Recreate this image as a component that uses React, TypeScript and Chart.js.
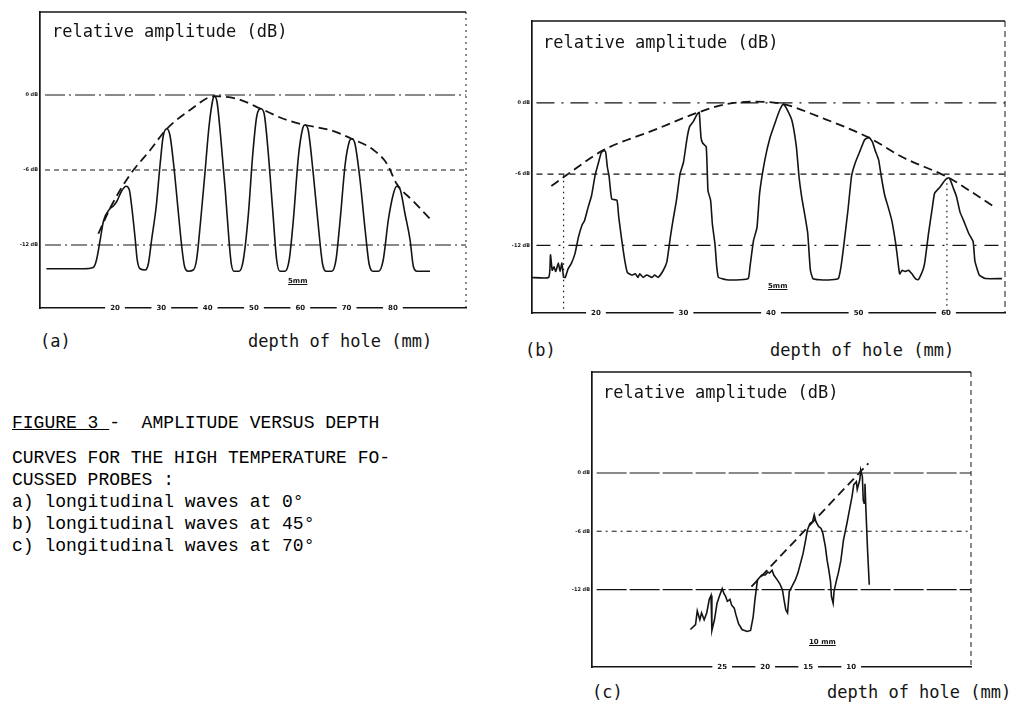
import React, { useEffect, useRef } from "react";
import { Chart, registerables } from "chart.js";
Chart.register(...registerables);

const INK = "#141414";
const MONO = '"DejaVu Sans Mono", monospace';
const CAP = '"Liberation Mono", monospace';

// ---------- shared ----------
const refLevels = [0, -6, -12];
const refLabels = ["0 dB", "-6 dB", "-12 dB"];

// ---------- panel (a) : longitudinal waves at 0° ----------
const xTicksA = [20, 30, 40, 50, 60, 70, 80];
const depthA = [5.2, 13.2, 15.3, 16.0, 16.8, 17.5, 18.9, 19.6, 20.4, 21.4, 22.4, 23.1, 23.6, 24.3, 24.8, 25.4, 26.5, 27.2, 27.9, 28.9, 29.7, 30.4, 31.2, 31.9, 32.7, 33.7, 34.4, 35.0, 35.8, 36.9, 37.6, 38.5, 39.4, 40.3, 41.1, 41.4, 42.0, 42.8, 43.8, 44.6, 45.1, 45.7, 46.8, 47.7, 48.8, 49.7, 50.6, 51.5, 52.2, 53.1, 54.1, 54.9, 55.6, 56.7, 57.6, 58.5, 59.6, 60.5, 61.0, 61.7, 62.8, 63.9, 64.8, 65.6, 66.8, 67.7, 68.6, 69.7, 70.6, 71.1, 71.8, 72.9, 74.0, 74.9, 75.8, 76.9, 77.9, 79.0, 80.1, 80.8, 81.6, 82.6, 83.7, 84.4, 85.2, 88.0];
const ampA = [-13.9, -13.9, -13.8, -13.2, -11.6, -10.1, -9.1, -8.9, -8.5, -7.7, -7.3, -7.6, -8.9, -11.3, -13.2, -13.9, -14.0, -13.5, -11.6, -8.9, -5.7, -3.3, -2.7, -3.3, -5.7, -9.5, -12.1, -13.7, -14.1, -14.0, -13.2, -10.0, -6.3, -2.5, -0.4, -0.1, -0.5, -3.3, -7.6, -11.6, -13.5, -14.1, -14.1, -13.2, -9.5, -4.9, -1.7, -1.1, -1.5, -4.7, -9.5, -13.2, -14.1, -14.1, -13.2, -10.0, -4.9, -2.7, -2.4, -2.8, -6.3, -10.5, -13.5, -14.1, -14.1, -13.2, -10.0, -5.5, -3.7, -3.5, -3.9, -6.8, -10.8, -13.6, -14.1, -14.1, -13.2, -10.0, -7.9, -7.3, -7.6, -9.5, -11.6, -13.7, -14.1, -14.1];
const envDepthA = [16.4, 19.3, 23.2, 27.6, 31.2, 36.2, 41.4, 46.3, 51.5, 56.3, 61.0, 66.4, 71.1, 75.8, 78.7, 80.8, 84.4, 88.0];
const envAmpA = [-11.1, -8.8, -6.4, -4.4, -2.7, -1.2, -0.1, -0.3, -1.1, -1.9, -2.4, -2.8, -3.5, -4.4, -5.5, -7.1, -8.5, -9.9];

// ---------- panel (b) : longitudinal waves at 45° ----------
const xTicksB = [20, 30, 40, 50, 60];
const depthB = [12.5, 14.6, 14.8, 15.0, 15.2, 15.4, 15.7, 15.9, 16.1, 16.3, 16.5, 16.8, 17.2, 17.6, 18.0, 18.4, 18.7, 19.1, 19.5, 19.9, 20.3, 20.6, 20.9, 21.1, 21.3, 21.5, 21.8, 22.4, 22.6, 22.9, 23.3, 23.6, 24.1, 24.5, 24.8, 25.0, 25.4, 25.8, 26.4, 26.7, 27.1, 27.7, 28.1, 28.5, 28.8, 29.2, 29.6, 30.0, 30.4, 30.7, 31.1, 31.6, 31.8, 32.0, 32.2, 32.6, 32.8, 33.1, 33.3, 33.6, 33.8, 34.0, 34.9, 36.5, 37.4, 37.6, 38.0, 38.4, 38.7, 39.3, 39.9, 40.5, 41.0, 41.4, 41.8, 42.4, 42.9, 43.2, 43.5, 43.9, 44.2, 44.5, 44.8, 45.6, 46.9, 47.7, 48.0, 48.3, 48.8, 49.2, 49.6, 50.2, 50.7, 51.2, 51.6, 51.9, 52.3, 52.6, 53.0, 53.4, 53.8, 54.2, 54.4, 54.7, 55.0, 55.3, 55.7, 56.1, 56.5, 56.8, 57.0, 57.4, 57.6, 58.0, 58.4, 58.7, 59.3, 59.9, 60.3, 60.5, 60.8, 61.2, 61.6, 62.0, 62.6, 63.1, 63.3, 63.8, 64.5, 66.4];
const ampB = [-14.7, -14.7, -12.8, -14.1, -13.8, -14.2, -13.5, -14.2, -13.5, -14.7, -14.7, -14.0, -13.5, -12.7, -11.3, -10.3, -9.9, -8.8, -7.8, -6.1, -5.0, -4.2, -4.0, -4.1, -5.4, -6.2, -8.1, -8.2, -9.6, -11.3, -13.3, -14.3, -14.5, -14.4, -14.7, -14.4, -14.7, -14.5, -14.7, -14.5, -14.7, -14.1, -13.4, -11.3, -9.9, -8.2, -6.0, -5.0, -3.0, -2.0, -1.6, -0.9, -0.8, -2.9, -3.4, -3.7, -7.4, -8.2, -10.2, -11.9, -13.8, -14.7, -14.9, -14.9, -14.8, -13.8, -11.6, -10.5, -7.6, -4.8, -2.9, -1.6, -0.6, -0.1, -0.5, -1.5, -3.7, -6.2, -7.9, -9.6, -11.0, -14.1, -14.8, -14.9, -14.9, -14.8, -13.8, -12.1, -9.0, -6.2, -5.1, -4.0, -3.1, -2.9, -3.3, -4.0, -4.8, -6.2, -7.8, -8.8, -9.9, -11.6, -12.7, -14.4, -14.1, -14.2, -14.1, -14.4, -14.8, -14.9, -14.7, -14.0, -13.3, -11.0, -9.0, -7.6, -7.1, -6.5, -6.3, -6.5, -7.1, -7.9, -9.2, -9.9, -11.0, -11.7, -13.3, -14.5, -14.8, -14.8];
const envDepthB = [14.9, 16.6, 20.8, 26.6, 31.7, 34.9, 38.0, 41.4, 45.6, 51.1, 55.1, 60.3, 62.7, 65.6];
const envAmpB = [-7.0, -6.1, -4.0, -2.3, -0.8, -0.1, 0.1, -0.1, -1.2, -2.9, -4.6, -6.3, -7.4, -8.8];
const markerDepthB = [16.3, 60.1];
const markerAmpB = [-6.1, -6.3];

// ---------- panel (c) : longitudinal waves at 70° ----------
const xTicksC = [25, 20, 15, 10];
const depthC = [28.7, 28.1, 27.9, 27.6, 27.4, 27.1, 26.8, 26.5, 26.3, 26.2, 25.9, 25.6, 25.3, 25.0, 24.8, 24.6, 24.4, 24.1, 23.9, 23.6, 23.4, 23.1, 22.7, 22.1, 21.7, 21.4, 21.2, 20.9, 20.4, 20.0, 19.7, 19.5, 19.2, 19.0, 18.6, 18.3, 18.0, 17.8, 17.6, 17.4, 17.2, 16.9, 16.5, 16.2, 15.9, 15.6, 15.3, 15.1, 14.8, 14.5, 14.3, 14.1, 13.8, 13.5, 13.3, 13.0, 12.8, 12.6, 12.4, 12.3, 12.1, 12.0, 11.7, 11.5, 11.2, 10.9, 10.5, 10.2, 9.9, 9.7, 9.4, 9.3, 9.0, 8.9, 8.7, 8.6, 8.5, 8.4, 8.3, 8.1, 7.9];
const ampC = [-16.1, -15.6, -14.2, -15.1, -14.4, -15.1, -14.4, -13.0, -12.6, -16.2, -15.1, -13.4, -12.6, -11.9, -12.4, -12.7, -13.2, -13.0, -13.6, -13.9, -14.6, -15.5, -16.1, -16.3, -16.2, -14.8, -13.1, -11.0, -10.5, -10.5, -10.2, -10.3, -10.0, -10.5, -11.0, -11.4, -12.0, -13.1, -14.1, -14.4, -12.2, -11.7, -11.0, -10.3, -9.3, -8.3, -6.9, -5.9, -5.2, -5.0, -4.3, -5.0, -5.5, -5.7, -6.2, -7.6, -9.0, -10.0, -11.2, -12.7, -13.4, -12.2, -11.0, -10.3, -9.0, -6.9, -5.2, -3.8, -2.4, -1.2, -0.9, -1.7, -0.7, 0.3, -0.4, -2.8, -3.1, -1.1, -3.5, -7.9, -11.5];
const envDepthC = [21.6, 8.0];
const envAmpC = [-11.7, 1.0];

// ---------- layout / style config ----------
const PAD = { left: 30, top: 10, right: 8, bottom: 14 };
const Y_AXIS_W = 26;
const X_TICK_SIZE = 7;

type PanelCfg = {
  frame: { L: number; T: number; R: number; B: number };
  xMin: number; xMax: number; reverse: boolean;
  yMin: number; yMax: number;
  xTicks: number[];
  refStart: number; refEnd: number;
  refDash: number[][];
  depth: number[]; amp: number[]; tension: number; monotone: boolean;
  envDepth: number[]; envAmp: number[];
  markers?: { depth: number[]; amp: number[] };
  rightDash: number[];
};

const panelA: PanelCfg = {
  frame: { L: 40, T: 12, R: 466, B: 308 },
  xMin: 3.81, xMax: 95.77, reverse: false,
  yMin: -17.04, yMax: 6.64,
  xTicks: xTicksA, refStart: 4.9, refEnd: 95.77,
  refDash: [[20, 4, 2, 4], [5, 4], [16, 4, 2, 4]],
  depth: depthA, amp: ampA, tension: 0, monotone: true,
  envDepth: envDepthA, envAmp: envAmpA,
  rightDash: [2, 4],
};
const panelB: PanelCfg = {
  frame: { L: 532, T: 21, R: 1005, B: 313 },
  xMin: 12.69, xMax: 66.74, reverse: false,
  yMin: -17.7, yMax: 6.9,
  xTicks: xTicksB, refStart: 13.2, refEnd: 66.74,
  refDash: [[18, 7, 2, 7], [6, 5], [14, 8, 2, 8]],
  depth: depthB, amp: ampB, tension: 0.15, monotone: false,
  envDepth: envDepthB, envAmp: envAmpB,
  markers: { depth: markerDepthB, amp: markerAmpB },
  rightDash: [6, 4],
};
const panelC: PanelCfg = {
  frame: { L: 592, T: 372, R: 971, B: 667 },
  xMin: -3.93, xMax: 40.14, reverse: true,
  yMin: -19.96, yMax: 10.39,
  xTicks: xTicksC, refStart: 39.6, refEnd: -3.93,
  refDash: [[30, 3], [5, 4, 2, 4], [30, 3]],
  depth: depthC, amp: ampC, tension: 0, monotone: false,
  envDepth: envDepthC, envAmp: envAmpC,
  rightDash: [5, 4],
};

const pts = (xs: number[], ys: number[]) => xs.map((x, i) => ({ x, y: ys[i] }));

const framePlugin = {
  id: "frame",
  afterDatasetsDraw(chart: any, _args: any, opts: any) {
    const { ctx, chartArea } = chart;
    const { left, right, top, bottom } = chartArea;
    ctx.save();
    ctx.strokeStyle = INK;
    ctx.lineWidth = 1.3;
    ctx.beginPath();
    ctx.moveTo(left, top);
    ctx.lineTo(right, top);
    ctx.stroke();
    ctx.lineWidth = 1;
    ctx.setLineDash(opts.rightDash || [3, 3]);
    ctx.beginPath();
    ctx.moveTo(right, top);
    ctx.lineTo(right, bottom);
    ctx.stroke();
    ctx.restore();
  },
};

function Panel({ cfg }: { cfg: PanelCfg }) {
  const ref = useRef<HTMLCanvasElement>(null);
  const { L, T, R, B } = cfg.frame;
  const w = R - L + PAD.left + PAD.right;
  const h = B - T + PAD.top + PAD.bottom;

  useEffect(() => {
    const canvas = ref.current!;
    const datasets: any[] = [];
    refLevels.forEach((lv, i) => {
      datasets.push({
        data: [{ x: cfg.refStart, y: lv }, { x: cfg.refEnd, y: lv }],
        borderColor: INK, borderWidth: 1.1, borderDash: cfg.refDash[i],
        pointRadius: 0, tension: 0,
      });
    });
    if (cfg.markers) {
      cfg.markers.depth.forEach((d, i) => {
        datasets.push({
          data: [{ x: d, y: cfg.markers!.amp[i] }, { x: d, y: cfg.yMin }],
          borderColor: INK, borderWidth: 1.2, borderDash: [1.5, 4],
          pointRadius: 0, tension: 0,
        });
      });
    }
    datasets.push({
      data: pts(cfg.envDepth, cfg.envAmp),
      borderColor: INK, borderWidth: 1.8, borderDash: [9, 5],
      pointRadius: 0, cubicInterpolationMode: "monotone",
    });
    datasets.push({
      data: pts(cfg.depth, cfg.amp),
      borderColor: INK, borderWidth: 1.6,
      pointRadius: 0,
      tension: cfg.tension,
      cubicInterpolationMode: cfg.monotone ? "monotone" : "default",
    });

    const chart = new Chart(canvas, {
      type: "line",
      data: { datasets },
      options: {
        responsive: false,
        animation: false,
        devicePixelRatio: 1,
        layout: { padding: { ...PAD, left: PAD.left - Y_AXIS_W } },
        plugins: {
          legend: { display: false },
          tooltip: { enabled: false },
          frame: { rightDash: cfg.rightDash },
        } as any,
        scales: {
          x: {
            type: "linear",
            min: cfg.xMin,
            max: cfg.xMax,
            reverse: cfg.reverse,
            afterBuildTicks: (s: any) => {
              s.ticks = cfg.xTicks.map((v) => ({ value: v }));
            },
            afterFit: (s: any) => {
              s.height = 0;
            },
            grid: { display: false, drawTicks: false },
            border: { display: true, color: INK, width: 1.4 },
            ticks: {
              autoSkip: false,
              maxRotation: 0,
              mirror: true,
              padding: -X_TICK_SIZE * 0.6,
              color: INK,
              font: { size: X_TICK_SIZE, family: "DejaVu Sans", weight: "bold" },
              showLabelBackdrop: true,
              backdropColor: "#ffffff",
              backdropPadding: { left: 5, right: 5, top: 1, bottom: 1 },
              callback: (v: any) => String(v),
            } as any,
          },
          y: {
            type: "linear",
            min: cfg.yMin,
            max: cfg.yMax,
            afterBuildTicks: (s: any) => {
              s.ticks = refLevels.map((v) => ({ value: v }));
            },
            afterFit: (s: any) => {
              s.width = Y_AXIS_W;
            },
            grid: { display: false, drawTicks: false },
            border: { display: true, color: INK, width: 1.7 },
            ticks: {
              padding: 2,
              color: INK,
              font: { size: 5, family: "DejaVu Sans", weight: "bold" },
              callback: (v: any) => refLabels[refLevels.indexOf(Number(v))] ?? "",
            },
          },
        },
      },
      plugins: [framePlugin as any],
    });
    return () => chart.destroy();
  }, []);

  return (
    <canvas
      ref={ref}
      width={w}
      height={h}
      style={{ position: "absolute", left: L - PAD.left, top: T - PAD.top, width: w, height: h }}
    />
  );
}

const Txt = ({ x, y, size = 17, font = MONO, children, style = {} }: any) => (
  <div
    style={{
      position: "absolute", left: x, top: y, fontFamily: font, fontSize: size,
      lineHeight: "20px", whiteSpace: "pre", color: INK, ...style,
    }}
  >
    {children}
  </div>
);

const small = { fontWeight: "bold", textDecoration: "underline", lineHeight: "10px" };

export default function App() {
  return (
    <div style={{ position: "fixed", left: 0, top: 0, width: 1024, height: 709, background: "#fff", overflow: "hidden" }}>
      <Panel cfg={panelA} />
      <Panel cfg={panelB} />
      <Panel cfg={panelC} />

      <Txt x={52} y={21}>relative amplitude (dB)</Txt>
      <Txt x={543} y={32}>relative amplitude (dB)</Txt>
      <Txt x={603} y={382}>relative amplitude (dB)</Txt>

      <Txt x={40} y={331}>(a)</Txt>
      <Txt x={248} y={331}>depth of hole (mm)</Txt>
      <Txt x={525} y={340}>(b)</Txt>
      <Txt x={770} y={340}>depth of hole (mm)</Txt>
      <Txt x={592} y={682}>(c)</Txt>
      <Txt x={827} y={682}>depth of hole (mm)</Txt>

      <Txt x={288} y={276} size={7} font="DejaVu Sans" style={small}>5mm</Txt>
      <Txt x={768} y={281} size={7} font="DejaVu Sans" style={small}>5mm</Txt>
      <Txt x={809} y={637} size={7} font="DejaVu Sans" style={small}>10 mm</Txt>

      <div style={{ position: "absolute", left: 12, top: 412, fontFamily: CAP, fontSize: 18, lineHeight: "22px", color: "#000", whiteSpace: "pre" }}>
        <div><span style={{ textDecoration: "underline" }}>FIGURE 3 </span>-  AMPLITUDE VERSUS DEPTH</div>
        <div style={{ marginTop: 13 }}>CURVES FOR THE HIGH TEMPERATURE FO-</div>
        <div>CUSSED PROBES :</div>
        <div>a) longitudinal waves at 0°</div>
        <div>b) longitudinal waves at 45°</div>
        <div>c) longitudinal waves at 70°</div>
      </div>
    </div>
  );
}
